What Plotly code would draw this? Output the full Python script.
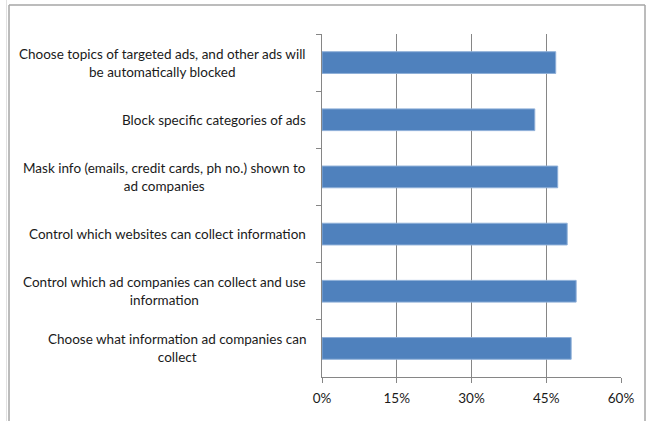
import plotly.graph_objects as go

# Survey options, listed top to bottom
features = [
    "Choose topics of targeted ads, and other ads will<br>be automatically blocked",
    "Block specific categories of ads",
    "Mask info (emails, credit cards, ph no.) shown to<br>ad companies",
    "Control which websites can collect information",
    "Control which ad companies can collect and use<br>information",
    "Choose what information ad companies can<br>collect",
]
shares = [0.469, 0.427, 0.473, 0.492, 0.510, 0.500]
x_ticks = [0, 0.15, 0.30, 0.45, 0.60]
x_tick_labels = ["0%", "15%", "30%", "45%", "60%"]

W, H = 650, 421
L, R, T, B = 322, 29, 34, 44
pw, ph = W - L - R, H - T - B

FONT = "Lato"
GRID = "#868686"
TEXT = "#1a1a1a"

fig = go.Figure(
    go.Bar(
        x=shares,
        y=features,
        orientation="h",
        marker=dict(color="#4F81BD", line=dict(color="#8EAFD8", width=1)),
        hoverinfo="x+y",
    )
)

# Category labels: right-aligned block, lines centred within it
for name in features:
    fig.add_annotation(
        x=0, xref="paper", y=name, yref="y",
        text=name, showarrow=False,
        xanchor="right", yanchor="middle", align="center",
        xshift=-14,
        font=dict(family=FONT, size=13.5, color=TEXT),
    )

def px_x(p):
    return (p - L) / pw

def px_y(p):
    return 1 - (p - T) / ph

# Chart frame (left, top and right edges)
frame = dict(color="#A6A6A6", width=1.5)
for x0, y0, x1, y1 in [(9, 5, 9, 430), (9, 5, 645, 5), (645, 5, 645, 430)]:
    fig.add_shape(type="line", xref="paper", yref="paper",
                  x0=px_x(x0), y0=px_y(y0), x1=px_x(x1), y1=px_y(y1),
                  line=frame)
fig.add_shape(type="line", xref="paper", yref="paper",
              x0=px_x(6.5), y0=px_y(0), x1=px_x(6.5), y1=px_y(430),
              line=dict(color="#E2E2E2", width=1))

fig.update_layout(
    width=W, height=H,
    margin=dict(l=L, r=R, t=T, b=B),
    paper_bgcolor="white", plot_bgcolor="white",
    bargap=0.62,
    showlegend=False,
    xaxis=dict(
        range=[0, 0.60],
        tickvals=x_ticks, ticktext=x_tick_labels,
        showgrid=True, gridcolor=GRID, gridwidth=1,
        showline=True, linecolor=GRID, linewidth=1,
        ticks="outside", ticklen=5, tickcolor=GRID,
        ticklabelstandoff=4,
        tickfont=dict(family=FONT, size=13.5, color=TEXT),
        zeroline=False, fixedrange=True,
    ),
    yaxis=dict(
        type="category",
        categoryorder="array", categoryarray=features,
        autorange="reversed",
        showticklabels=False,
        showgrid=False,
        showline=True, linecolor=GRID, linewidth=1,
        ticks="outside", ticklen=5, tickcolor=GRID,
        tickson="boundaries",
        fixedrange=True,
    ),
)

fig.write_html("out.html")
